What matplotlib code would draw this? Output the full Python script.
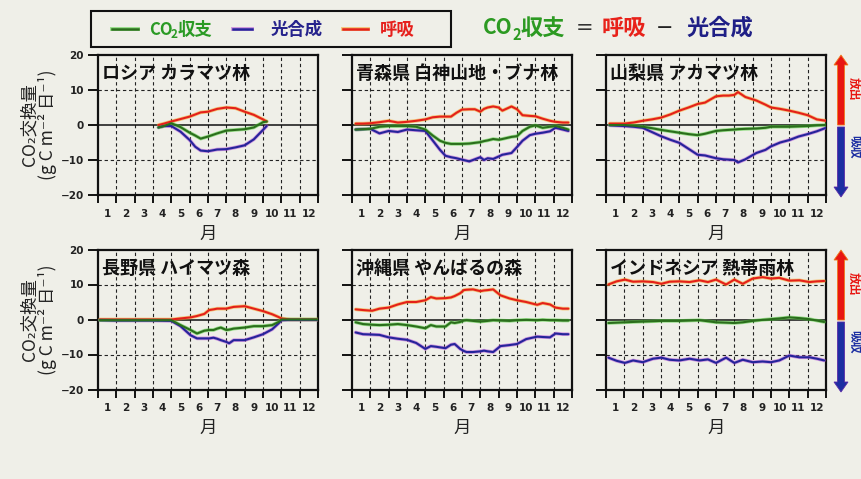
import matplotlib
matplotlib.use("Agg")
import matplotlib.pyplot as plt
from matplotlib.lines import Line2D
from matplotlib.patches import Rectangle, FancyArrow
from matplotlib.transforms import IdentityTransform

plt.rcParams['font.family'] = ['Noto Sans CJK JP', 'DejaVu Sans']
plt.rcParams['axes.unicode_minus'] = True

W, H = 861, 479
BG = '#efefe8'

# ---- data: month position (0-12) and daily CO2 fluxes (g C m-2 day-1) ----
russia_month = [3.3, 3.6, 4.0, 4.5, 5.0, 5.3, 5.6, 6.0, 6.5, 7.0, 7.5, 8.0, 8.5, 9.0, 9.2]
russia_resp = [0.0, 0.4, 1.0, 1.7, 2.4, 3.0, 3.6, 3.8, 4.6, 5.0, 4.8, 3.8, 2.9, 1.6, 1.0]
russia_net = [-0.7, -0.3, 0.5, -0.6, -2.2, -3.0, -3.9, -3.3, -2.4, -1.6, -1.4, -1.2, -0.7, 0.8, 1.0]
russia_photo = [-0.7, -0.3, -0.3, -1.9, -4.3, -6.2, -7.3, -7.5, -7.0, -6.9, -6.4, -5.8, -4.1, -1.4, -0.3]

aomori_month = [0.2, 0.6, 1.0, 1.5, 2.0, 2.5, 3.0, 3.5, 4.0, 4.4, 4.8, 5.1, 5.4, 5.7, 6.0, 6.4, 6.7,
                7.0, 7.2, 7.4, 7.7, 8.0, 8.2, 8.7, 9.0, 9.3, 9.7, 10.0, 10.4, 10.8, 11.1, 11.5, 11.8]
aomori_resp = [0.4, 0.4, 0.5, 0.8, 1.2, 0.7, 0.9, 1.2, 1.6, 2.2, 2.4, 2.4, 2.4, 3.5, 4.4, 4.5, 4.5,
               3.8, 4.6, 5.0, 5.3, 5.0, 4.1, 5.3, 4.5, 2.8, 2.6, 2.5, 1.8, 1.2, 0.9, 0.7, 0.7]
aomori_net = [-1.3, -1.2, -1.1, -0.5, -0.3, -0.3, -0.3, -0.5, -1.3, -3.0, -4.5, -5.1, -5.4, -5.4, -5.4, -5.3, -5.1,
              -4.9, -4.6, -4.4, -4.0, -4.2, -4.0, -3.4, -3.2, -1.7, -0.5, -0.1, -0.8, -0.5, -0.3, -0.8, -1.3]
aomori_photo = [-1.3, -1.2, -1.1, -2.4, -1.7, -2.0, -1.3, -1.5, -1.7, -4.4, -7.1, -8.8, -9.2, -9.5, -9.9, -10.4, -9.8,
                -9.2, -10.0, -9.5, -9.7, -9.0, -8.5, -8.0, -6.3, -4.5, -2.9, -2.5, -2.2, -1.8, -0.8, -1.3, -1.7]

yamanashi_month = [0.2, 1.0, 1.5, 2.0, 2.5, 3.0, 3.5, 4.0, 4.5, 5.0, 5.4, 6.0, 6.4, 6.7, 7.0, 7.2, 7.6,
                   8.2, 8.7, 9.0, 9.5, 10.0, 10.5, 11.0, 11.5, 12.0]
yamanashi_resp = [0.4, 0.4, 0.7, 1.2, 1.6, 2.1, 3.0, 4.1, 5.0, 6.0, 6.4, 8.2, 8.4, 8.4, 8.6, 9.4, 8.0,
                  7.0, 5.8, 5.0, 4.6, 4.1, 3.5, 2.8, 1.6, 1.2]
yamanashi_net = [0.0, 0.0, -0.2, -0.5, -0.9, -1.4, -1.8, -2.2, -2.6, -2.9, -2.5, -1.7, -1.5, -1.4, -1.3, -1.2, -1.1,
                 -1.0, -0.8, -0.5, -0.5, -0.5, -0.4, -0.3, -0.1, 0.0]
yamanashi_photo = [-0.1, -0.3, -0.5, -0.8, -2.0, -3.2, -4.2, -5.1, -6.8, -8.5, -8.7, -9.5, -9.8, -9.9, -10.0, -10.7, -9.8,
                   -8.0, -7.1, -6.1, -5.0, -4.3, -3.3, -2.6, -1.8, -0.8]

nagano_month = [0.1, 1.0, 2.0, 3.0, 4.0, 4.5, 5.05, 5.4, 5.8, 6.06, 6.3, 6.5, 6.7, 7.0, 7.15, 7.4,
                8.0, 8.5, 9.0, 9.5, 9.85, 10.0, 10.5, 11.0, 12.0]
nagano_resp = [0.0, 0.0, 0.0, 0.0, 0.0, 0.3, 0.6, 1.0, 1.6, 2.7, 2.9, 3.1, 3.1, 3.1, 3.3, 3.6,
               3.8, 3.1, 2.4, 1.5, 0.7, 0.3, 0.0, 0.0, 0.0]
nagano_net = [-0.2, -0.2, -0.2, -0.2, -0.2, -1.6, -3.0, -4.0, -3.2, -3.0, -3.0, -2.6, -2.3, -3.0, -2.9, -2.6,
              -2.3, -1.9, -1.9, -1.6, -0.7, 0.0, 0.0, 0.0, 0.0]
nagano_photo = [-0.2, -0.3, -0.3, -0.3, -0.4, -1.9, -4.5, -5.4, -5.4, -5.4, -5.2, -5.5, -5.9, -6.4, -6.8, -5.9,
                -5.9, -5.1, -4.2, -2.8, -1.1, -0.2, -0.1, -0.1, -0.1]

okinawa_month = [0.2, 0.6, 1.1, 1.5, 2.0, 2.5, 3.0, 3.5, 4.0, 4.3, 4.6, 5.1, 5.4, 5.6, 5.9, 6.1,
                 6.25, 6.6, 7.0, 7.2, 7.4, 7.7, 8.1, 8.6, 9.0, 9.5, 10.1, 10.4, 10.8, 11.1, 11.5, 11.8]
okinawa_resp = [2.9, 2.7, 2.5, 3.1, 3.4, 4.3, 5.0, 5.0, 5.5, 6.4, 6.0, 6.1, 6.3, 6.7, 7.5, 8.4,
                8.5, 8.6, 8.1, 8.3, 8.4, 8.6, 6.9, 6.0, 5.5, 5.0, 4.2, 4.7, 4.3, 3.4, 3.1, 3.1]
okinawa_net = [-0.8, -1.3, -1.5, -1.6, -1.5, -1.3, -1.6, -2.0, -2.5, -1.6, -2.0, -2.0, -0.8, -1.0, -0.7, -0.3,
               -0.2, -0.4, -0.6, -0.5, -0.4, -0.2, -0.3, -0.4, -0.2, -0.1, -0.2, -0.1, -0.2, -0.2, -0.3, -0.3]
okinawa_photo = [-3.7, -4.2, -4.3, -4.4, -5.1, -5.5, -5.8, -6.7, -8.4, -7.6, -7.8, -8.2, -7.2, -7.0, -8.4, -9.0,
                 -9.3, -9.3, -9.1, -8.9, -9.1, -9.3, -7.6, -7.3, -7.0, -5.6, -4.9, -5.0, -5.1, -4.0, -4.2, -4.2]

indonesia_month = [0.13, 0.58, 1.03, 1.48, 2.0, 2.57, 3.02, 3.47, 4.0, 4.56, 5.1, 5.56, 6.0, 6.55, 7.0,
                   7.46, 8.0, 8.54, 9.0, 9.45, 10.0, 10.55, 11.1, 11.5, 11.9]
indonesia_resp = [10.0, 10.9, 11.4, 10.8, 10.9, 10.7, 10.2, 10.8, 10.9, 10.7, 11.2, 10.7, 11.4, 10.0, 11.4,
                  10.2, 11.7, 12.1, 11.7, 11.9, 11.1, 11.2, 10.7, 10.9, 11.0]
indonesia_net = [-1.0, -0.9, -0.8, -0.7, -0.6, -0.5, -0.4, -0.4, -0.4, -0.3, -0.2, -0.5, -0.8, -0.9, -1.0,
                 -0.8, -0.4, -0.1, 0.1, 0.3, 0.6, 0.4, 0.1, -0.3, -0.7]
indonesia_photo = [-10.9, -11.8, -12.4, -11.7, -12.2, -11.2, -10.9, -11.5, -11.7, -11.2, -11.7, -11.4, -12.4, -10.9, -12.4,
                   -11.5, -12.2, -12.0, -12.2, -11.7, -10.3, -10.8, -10.8, -11.2, -11.7]

site_titles = ['ロシア カラマツ林', '青森県 白神山地・ブナ林', '山梨県 アカマツ林',
               '長野県 ハイマツ森', '沖縄県 やんばるの森', 'インドネシア 熱帯雨林']
sites = [
    (russia_month, russia_resp, russia_net, russia_photo),
    (aomori_month, aomori_resp, aomori_net, aomori_photo),
    (yamanashi_month, yamanashi_resp, yamanashi_net, yamanashi_photo),
    (nagano_month, nagano_resp, nagano_net, nagano_photo),
    (okinawa_month, okinawa_resp, okinawa_net, okinawa_photo),
    (indonesia_month, indonesia_resp, indonesia_net, indonesia_photo),
]
month_labels = [str(m) for m in range(1, 13)]
y_ticks = [-20, -10, 0, 10, 20]

RED, RED_HALO = '#e4201a', '#f7a21e'
GREEN, GREEN_HALO = '#2b6e1c', '#4fcf3a'
BLUE, BLUE_HALO = '#25249a', '#b04cd6'

fig = plt.figure(figsize=(W / 100, H / 100), dpi=100, facecolor=BG)


def fx(x):
    return x / W


def fy(y):
    return 1 - y / H


def draw_series(ax, x, y, core, halo):
    ax.plot(x, y, color=halo, lw=2.6, alpha=0.55, solid_capstyle='round', zorder=3)
    ax.plot(x, y, color=core, lw=1.5, solid_capstyle='round', zorder=4)


col_left = [98, 352, 606]
row_top = [55, 249.5]
ax_w, ax_h = 220, 140

for i, (title, data) in enumerate(zip(site_titles, sites)):
    r, c = divmod(i, 3)
    left, top = col_left[c], row_top[r]
    ax = fig.add_axes([fx(left), fy(top + ax_h), ax_w / W, ax_h / H])
    ax.set_facecolor(BG)
    ax.set_xlim(0, 12)
    ax.set_ylim(-20, 20)

    for m in range(1, 12):
        ax.axvline(m, color='#222222', lw=0.8, ls=(0, (3, 2.5)), zorder=1)
    for yv in (-10, 10):
        ax.axhline(yv, color='#222222', lw=0.8, ls=(0, (3, 2.5)), zorder=1)
    ax.axhline(0, color='#111111', lw=1.1, zorder=2)

    month, resp, net, photo = data
    draw_series(ax, month, resp, RED, RED_HALO)
    draw_series(ax, month, photo, BLUE, BLUE_HALO)
    draw_series(ax, month, net, GREEN, GREEN_HALO)

    ax.set_xticks(range(13))
    ax.set_xticklabels([])
    ax.set_xticks([m + 0.5 for m in range(12)], minor=True)
    ax.set_xticklabels(month_labels, minor=True, fontsize=7.5, fontweight='bold',
                       family='DejaVu Sans', color='#222222')
    ax.tick_params(axis='x', which='major', direction='out', length=6, width=1.4, color='#111111')
    ax.tick_params(axis='x', which='minor', length=0, pad=10)
    ax.set_yticks(y_ticks)
    ax.tick_params(axis='y', direction='out', length=7, width=1.4, color='#111111', pad=3)
    if c == 0:
        ax.set_yticklabels([f'{v}'.replace('-', '\u2212') for v in y_ticks], fontsize=7.5,
                           fontweight='bold', family='DejaVu Sans', color='#222222')
        ax.set_ylabel('CO\u2082交換量\n(g C m\u207b\u00b2 日\u207b\u00b9)', fontsize=12.5,
                      linespacing=0.95, labelpad=3, color='#222222')
    else:
        ax.set_yticklabels([])
    ax.set_xlabel('月', fontsize=12.5, labelpad=4, color='#222222')
    for sp in ax.spines.values():
        sp.set_linewidth(1.6)
        sp.set_color('#111111')
    ax.text(0.02, 0.865, title, transform=ax.transAxes, fontsize=13, fontweight='bold',
            color='#111111', va='center', ha='left', zorder=5)

# legend box across the top
fig.patches.append(Rectangle((fx(91), fy(47)), (451 - 91) / W, 36 / H, transform=fig.transFigure,
                             facecolor=BG, edgecolor='#111111', lw=1.5))
legend_y = 29
for (x0, x1), core, halo in [((112, 138), GREEN, GREEN_HALO), ((233, 252), BLUE, BLUE_HALO),
                             ((343, 368), RED, RED_HALO)]:
    fig.add_artist(Line2D([fx(x0), fx(x1)], [fy(legend_y)] * 2, transform=fig.transFigure,
                          color=halo, lw=2.8, alpha=0.55))
    fig.add_artist(Line2D([fx(x0), fx(x1)], [fy(legend_y)] * 2, transform=fig.transFigure,
                          color=core, lw=1.8))
LG_GREEN, LG_BLUE, LG_RED = '#2a9a24', '#26238c', '#e6201c'
fig.text(fx(149), fy(30), 'CO', fontsize=12, fontweight='bold', color=LG_GREEN, va='center', ha='left')
fig.text(fx(171), fy(35), '2', fontsize=8.5, fontweight='bold', color=LG_GREEN, va='center', ha='left')
fig.text(fx(178), fy(30), '収支', fontsize=12.5, fontweight='bold', color=LG_GREEN, va='center', ha='left')
fig.text(fx(271), fy(30), '光合成', fontsize=12.5, fontweight='bold', color=LG_BLUE, va='center', ha='left')
fig.text(fx(380), fy(30), '呼吸', fontsize=12.5, fontweight='bold', color=LG_RED, va='center', ha='left')

# balance equation
EQ_GREEN, EQ_RED, EQ_BLUE = '#2c9a22', '#e8221a', '#1f1f86'
fig.text(fx(483), fy(28), 'CO', fontsize=15, fontweight='bold', color=EQ_GREEN, va='center', ha='left')
fig.text(fx(512), fy(35), '2', fontsize=10.5, fontweight='bold', color=EQ_GREEN, va='center', ha='left')
fig.text(fx(521), fy(28), '収支', fontsize=16, fontweight='bold', color=EQ_GREEN, va='center', ha='left')
fig.text(fx(576), fy(28), '=', fontsize=15, color='#333333', va='center', ha='left', family='DejaVu Sans')
fig.text(fx(602), fy(28), '呼吸', fontsize=16, fontweight='bold', color=EQ_RED, va='center', ha='left')
fig.text(fx(656), fy(28), '\u2212', fontsize=15, color='#222222', va='center', ha='left', family='DejaVu Sans')
fig.text(fx(686), fy(28), '光合成', fontsize=16, fontweight='bold', color=EQ_BLUE, va='center', ha='left')

# release / uptake arrows on the right edge
ident = IdentityTransform()
for r_top, r_zero, r_bot in [(55, 126, 197), (250, 321, 392)]:
    up = FancyArrow(841, H - (r_zero - 1), 0, (r_zero - 1) - r_top, width=7, head_width=14,
                    head_length=10, length_includes_head=True, transform=ident,
                    facecolor='#e81612', edgecolor='#f07a1a', lw=0.6)
    dn = FancyArrow(841, H - (r_zero + 1), 0, -((r_bot) - (r_zero + 1)), width=7, head_width=14,
                    head_length=10, length_includes_head=True, transform=ident,
                    facecolor='#1c2ea2', edgecolor='#5a2aa8', lw=0.6)
    fig.patches.extend([up, dn])
    fig.text(fx(853.5), fy(r_top + 34), '放出', rotation=-90, fontsize=8.5, fontweight='bold',
             color='#e81612', ha='center', va='center')
    fig.text(fx(853.5), fy(r_zero + 21), '吸収', rotation=-90, fontsize=8.5, fontweight='bold',
             color='#1c2ea2', ha='center', va='center')

fig.savefig('out.png', dpi=100, facecolor=BG)
